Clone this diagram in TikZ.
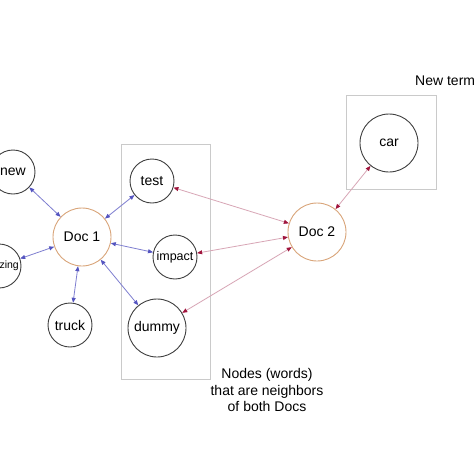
\documentclass[tikz,border=0pt]{standalone}
\usepackage{fontspec}
\setmainfont{Liberation Sans}
\usetikzlibrary{arrows.meta}
\definecolor{bluel}{HTML}{7E7ED0}
\definecolor{blueh}{HTML}{5454C0}
\definecolor{redl}{HTML}{D8A6B6}
\definecolor{redh}{HTML}{A0143C}
\definecolor{docc}{HTML}{D9A57A}
\definecolor{wordc}{HTML}{404040}
\definecolor{boxc}{HTML}{CACACA}
\tikzset{
  word/.style={circle,draw=wordc,line width=0.9pt,inner sep=0pt,minimum size=44pt,font=\fontsize{14}{16}\selectfont},
  bigword/.style={word,minimum size=58pt},
  doc/.style={circle,draw=docc,line width=0.9pt,inner sep=0pt,minimum size=58pt,font=\fontsize{14}{16}\selectfont},
  bluearr/.style={draw=bluel,line width=0.8pt,{Triangle[length=5pt,width=4pt,color=blueh]}-{Triangle[length=5pt,width=4pt,color=blueh]}},
  redarr/.style={draw=redl,line width=0.8pt,{Triangle[length=5pt,width=4pt,color=redh]}-{Triangle[length=5pt,width=4pt,color=redh]}},
  groupbox/.style={draw=boxc,line width=0.8pt},
  lbl/.style={font=\fontsize{14}{16.5}\selectfont,inner sep=0pt}
}
\begin{document}
\begin{tikzpicture}[x=1pt,y=-1pt]
\useasboundingbox (0,0) rectangle (474,474);
\clip (0,0) rectangle (474,474);
\fill[white] (0,0) rectangle (474,474);
% boxes
\draw[groupbox] (121,144) rectangle (210,379);
\draw[groupbox] (346,95) rectangle (436,189);
% nodes
\node[doc] (doc1) at (82,237) {Doc 1};
\node[doc] (doc2) at (317,232) {Doc 2};
\node[word] (new) at (13,172) {new};
\node[word,font=\fontsize{10.5}{12}\selectfont] (amazing) at (-1,266) {amazing};
\node[word] (truck) at (70,325) {truck};
\node[word] (test) at (152,181) {test};
\node[word,font=\fontsize{12.5}{14}\selectfont] (impact) at (175,257) {impact};
\node[bigword] (dummy) at (157,328) {dummy};
\node[bigword] (car) at (389,143) {car};
% labels
\node[lbl,anchor=west] (newterms) at (415,81) {New terms};
\node[lbl,align=center] (nbr) at (267,390) {Nodes (words)\\that are neighbors\\of both Docs};
% edges
\draw[bluearr] (doc1) -- (new);
\draw[bluearr] (doc1) -- (amazing);
\draw[bluearr] (doc1) -- (truck);
\draw[bluearr] (doc1) -- (test);
\draw[bluearr] (doc1) -- (impact);
\draw[bluearr] (doc1) -- (dummy);
\draw[redarr] (doc2) -- (test);
\draw[redarr] (doc2) -- (impact);
\draw[redarr] (doc2) -- (dummy);
\draw[redarr] (doc2) -- (car);
\end{tikzpicture}
\end{document}
